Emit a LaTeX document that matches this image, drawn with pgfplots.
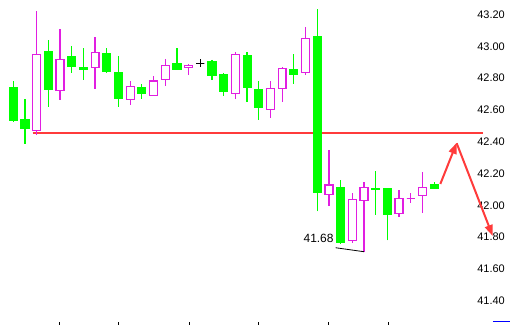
\documentclass[border=0pt]{standalone}
\usepackage{pgfplots}
\pgfplotsset{compat=1.18}
\usepackage{pgfplotstable}
\usepgfplotslibrary{statistics}
\usetikzlibrary{arrows.meta}
\usepackage{fontspec}
\setmainfont{Liberation Sans}
\definecolor{cgreen}{RGB}{0,255,0}
\definecolor{cmag}{RGB}{225,30,225}
\definecolor{cred}{RGB}{255,59,59}

% open high low close type (0 = falling, 1 = rising, 2 = unchanged); x = row index
\pgfplotstableread{
o h l c t
42.709 42.753 42.500 42.504 0
42.508 42.640 42.359 42.453 0
42.443 43.194 42.412 42.921 1
42.936 43.011 42.592 42.703 0
42.695 43.081 42.636 42.890 1
42.904 42.974 42.806 42.843 0
42.835 42.961 42.762 42.825 0
42.840 43.030 42.705 42.934 1
42.923 42.961 42.804 42.812 0
42.804 42.911 42.592 42.642 0
42.638 42.753 42.604 42.720 1
42.709 42.735 42.642 42.674 0
42.664 42.785 42.664 42.753 1
42.764 42.890 42.724 42.852 1
42.860 42.961 42.825 42.825 0
42.837 42.860 42.793 42.852 1
42.865 42.890 42.843 42.865 2
42.873 42.886 42.762 42.787 0
42.791 42.804 42.661 42.686 0
42.674 42.934 42.642 42.921 1
42.911 42.934 42.623 42.711 0
42.701 42.753 42.510 42.586 0
42.575 42.753 42.523 42.708 1
42.708 42.842 42.623 42.833 1
42.823 42.923 42.736 42.793 0
42.808 43.093 42.793 43.022 1
43.030 43.206 41.934 42.053 0
42.041 42.319 41.969 42.099 1
42.085 42.131 41.730 41.736 0
41.752 42.051 41.736 42.009 1
42.003 42.118 41.680 42.085 1
42.080 42.187 41.913 42.070 0
42.080 42.080 41.752 41.913 0
41.921 42.066 41.900 42.016 1
42.016 42.051 41.988 42.016 1
42.035 42.179 41.921 42.085 1
42.099 42.118 42.079 42.079 0
}\candles

\pgfplotsset{
  cdown/.style={draw=cgreen, fill=cgreen, line width=1.2bp},
  cup/.style={draw=cmag, fill=white, line width=1.3bp},
  cdoji/.style={draw=black, fill=white, line width=1.2bp},
}

\begin{document}
\begin{tikzpicture}
\useasboundingbox (0,0) rectangle (514bp,325bp);
\begin{axis}[
  at={(9bp,3bp)}, anchor=south west,
  scale only axis, width=501bp, height=322bp,
  xmin=-0.368, xmax=42.49, ymin=41.238, ymax=43.263,
  axis line style={draw=none},
  xtick={3.93,8.98,15.03,21,26.99,32.05}, xticklabels={},
  xtick pos=bottom, xtick align=outside, major tick length=3bp,
  x tick style={black, line width=0.8bp},
  ytick={41.4,41.6,41.8,42.0,42.2,42.4,42.6,42.8,43.0,43.2},
  y tick style={draw=none},
  yticklabel pos=right,
  yticklabel style={anchor=east, inner sep=0pt, xshift=-5bp, yshift=-4.5bp,
    font=\fontsize{11}{13}\selectfont},
  /pgf/number format/.cd, fixed, fixed zerofill, precision=2, assume math mode=true,
  /pgfplots/.cd,
  boxplot/draw direction=y,
  boxplot/box extend=0.68,
  boxplot/whisker extend=0,
]
\addplot[cred, line width=2bp] coordinates {(1.65,42.428) (40.18,42.428)};
\pgfplotsinvokeforeach{0,...,36}{%
  \pgfplotstablegetelem{#1}{o}\of\candles\let\vo\pgfplotsretval
  \pgfplotstablegetelem{#1}{h}\of\candles\let\vh\pgfplotsretval
  \pgfplotstablegetelem{#1}{l}\of\candles\let\vl\pgfplotsretval
  \pgfplotstablegetelem{#1}{c}\of\candles\let\vc\pgfplotsretval
  \pgfplotstablegetelem{#1}{t}\of\candles\let\vt\pgfplotsretval
  \ifnum\vt=0 \let\vlq\vc \let\vuq\vo \def\vsty{cdown}%
  \else \let\vlq\vo \let\vuq\vc
    \ifnum\vt=1 \def\vsty{cup}\else \def\vsty{cdoji}\fi
  \fi
  \edef\temp{\noexpand\addplot[\vsty, boxplot prepared={draw position=#1,
      lower whisker=\vl, lower quartile=\vlq, median=\vlq,
      upper quartile=\vuq, upper whisker=\vh}] coordinates {};}%
  \temp
}
% lowest-price marker
\addplot[black, line width=0.8bp] coordinates {(27.58,41.705) (30,41.680)};
\node[anchor=east, inner sep=0pt, font=\fontsize{12}{14}\selectfont] at (axis cs:27.41,41.763) {41.68};
% arrows
\addplot[cred, line width=2bp, -{Triangle[length=11bp,width=8bp]}] coordinates {(36.53,42.106) (37.93,42.365)};
\addplot[cred, line width=2bp, -{Triangle[length=11bp,width=8bp]}] coordinates {(37.93,42.362) (41.01,41.779)};
% bottom line
\draw[black, line width=1bp] (rel axis cs:0,0) -- (rel axis cs:1,0);
\draw[blue, line width=1.5bp] (rel axis cs:0.966,0) -- (rel axis cs:1,0);
\end{axis}
\end{tikzpicture}
\end{document}
